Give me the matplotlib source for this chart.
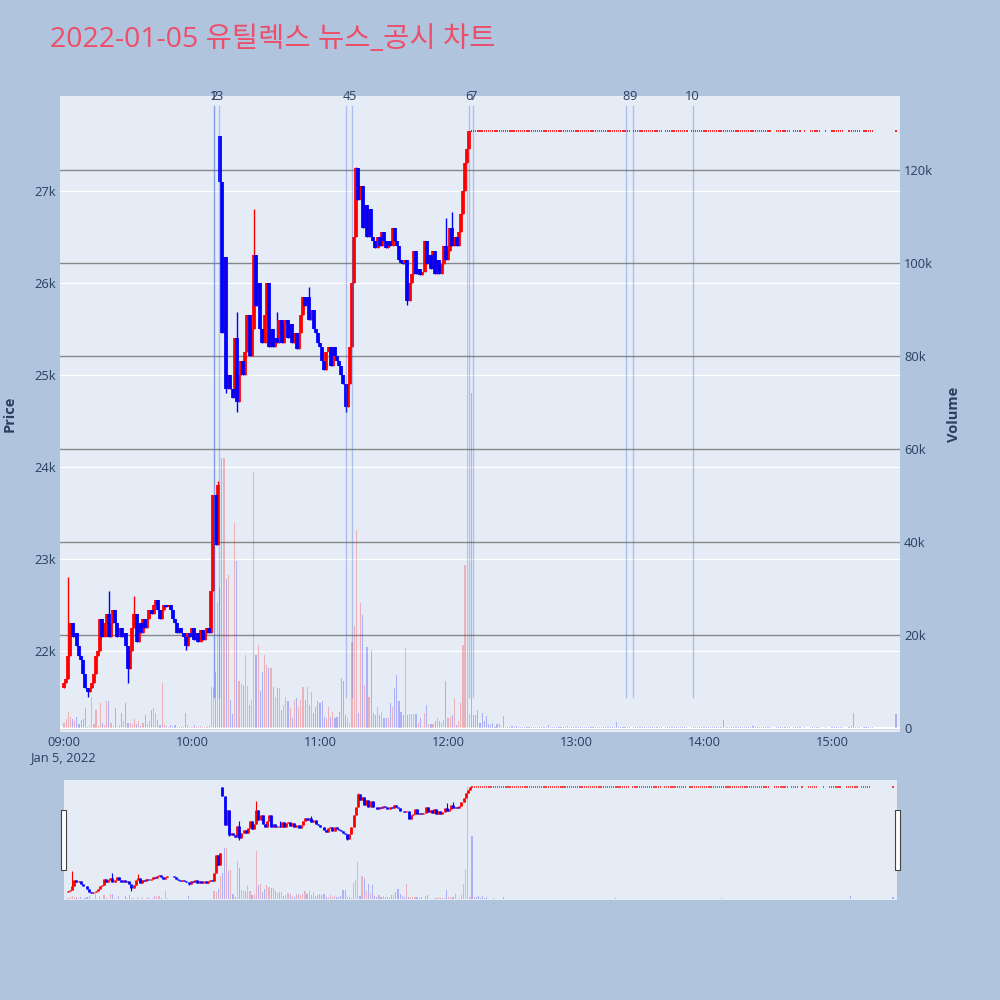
import numpy as np
import matplotlib
matplotlib.use("Agg")
import matplotlib.pyplot as plt
from matplotlib.transforms import blended_transform_factory
from matplotlib.patches import Rectangle

plt.rcParams['font.family'] = ['Open Sans', 'Noto Sans CJK KR', 'DejaVu Sans']

title = "2022-01-05 유틸렉스 뉴스_공시 차트"

# 1-minute closes, minute 0 = 09:00 ... minute 191 = 12:11
close = [
    21650, 21700, 21950, 22300, 22150, 22200, 22050, 21950, 21900, 21750,
    21600, 21550, 21600, 21650, 21750, 21950, 22000, 22350, 22150, 22300,
    22400, 22150, 22300, 22450, 22300, 22150, 22250, 22150, 22200, 22050,
    21800, 22000, 22250, 22400, 22100, 22300, 22200, 22350, 22250, 22350,
    22450, 22400, 22500, 22550, 22450, 22350, 22450, 22500, 22480, 22500,
    22450, 22350, 22300, 22200, 22250, 22200, 22150, 22050, 22200, 22150,
    22250, 22120, 22200, 22100, 22230, 22120, 22200, 22250, 22200, 22650,
    23700, 23150, 23800, 27100, 25450, 26280, 24850, 25000, 24850, 24750,
    25400, 24700, 25000, 25150, 25000, 25250, 25650, 25200, 25500, 26300,
    25750, 26000, 25500, 25350, 25650, 26000, 25300, 25500, 25300, 25400,
    25350, 25600, 25350, 25550, 25600, 25400, 25550, 25350, 25450, 25280,
    25450, 25650, 25850, 25750, 25850, 25600, 25700, 25500, 25450, 25350,
    25300, 25150, 25050, 25250, 25300, 25100, 25300, 25200, 25150, 25100,
    25000, 24900, 24650, 24900, 25300, 26000, 26500, 27250, 26900, 27050,
    26600, 26850, 26500, 26800, 26500, 26450, 26380, 26500, 26400, 26550,
    26450, 26380, 26450, 26400, 26600, 26450, 26400, 26250, 26220, 26200,
    26250, 25800, 26000, 26100, 26350, 26100, 26150, 26080, 26120, 26450,
    26200, 26300, 26150, 26350, 26100, 26250, 26100, 26200, 26400, 26250,
    26350, 26600, 26400, 26500, 26400, 26550, 26750, 27000, 27300, 27450,
    27650, 27650,
]
# opens that differ from the previous close
gap_open = {0: 21600, 73: 27600}
# wick extremes beyond the body
wick_high = {2: 22800, 21: 22650, 33: 22600, 72: 23850, 81: 25680, 89: 26800,
             100: 25680, 115: 25950, 137: 27260, 179: 26700, 182: 26770}
wick_low = {11: 21500, 30: 21650, 57: 22010, 76: 24800, 81: 24600,
            132: 24600, 161: 25760}

# volume (thousand shares), minute 0..191
volume = [
    1.0, 2.0, 3.5, 2.4, 2.0, 1.5, 2.4, 0.8, 1.7, 2.0,
    4.2, 0.3, 0.5, 6.7, 0.8, 3.9, 0.5, 5.3, 1.0, 0.6,
    5.7, 5.7, 1.0, 0.5, 4.2, 0.3, 0.6, 3.2, 1.4, 5.3,
    1.0, 1.0, 0.8, 2.0, 0.8, 1.4, 0.4, 1.0, 2.8, 0.8,
    1.4, 3.9, 4.2, 3.2, 1.7, 0.6, 9.7, 0.9, 0.5, 0.3,
    0.6, 0.3, 0.6, 0.2, 0.3, 0.2, 0.3, 3.2, 0.6, 0.3,
    0.2, 0.6, 0.3, 0.2, 0.4, 0.3, 0.2, 0.3, 0.5, 8.9,
    8.6, 12.0, 27.0, 30.0, 58.0, 58.0, 32.0, 33.0, 6.0, 3.0,
    44.0, 36.0, 10.0, 9.5, 9.0, 15.7, 9.0, 5.0, 6.0, 55.0,
    15.7, 17.8, 8.0, 12.0, 15.7, 13.5, 13.0, 12.8, 8.9, 6.7,
    8.5, 8.5, 3.9, 4.9, 6.6, 5.7, 4.2, 2.1, 6.0, 6.4,
    4.6, 6.0, 8.9, 6.0, 8.9, 4.9, 7.8, 3.2, 4.6, 5.7,
    5.3, 5.7, 2.4, 2.1, 4.6, 2.4, 3.5, 2.1, 2.4, 3.5,
    10.7, 10.0, 2.8, 2.1, 1.0, 18.6, 22.0, 42.6, 3.2, 26.8,
    24.3, 9.2, 17.5, 6.7, 16.8, 3.2, 2.8, 4.6, 2.8, 3.5,
    2.1, 2.1, 2.1, 5.3, 4.6, 8.5, 11.4, 5.7, 3.5, 2.8,
    17.3, 2.8, 3.0, 3.0, 3.0, 3.0, 1.0, 2.1, 0.3, 3.2,
    4.9, 0.8, 0.8, 0.8, 1.4, 2.1, 1.4, 1.0, 1.7, 10.0,
    2.1, 2.4, 2.8, 6.4, 0.6, 1.4, 5.3, 17.8, 35.0, 128.0,
    3.0, 72.0,
]

# after the upper-limit lock: traded minutes (runs) at the limit price
limit_price = 27650
limit_runs = [(192, 265), (267, 280), (282, 292), (294, 299), (300, 306),
              (307, 331), (334, 339), (340, 340), (342, 345), (347, 347),
              (350, 354), (357, 357), (360, 365), (368, 373), (375, 379),
              (390, 390)]
limit_vol = {192: 2.8, 193: 2.8, 194: 3.9, 195: 1.0, 196: 3.2, 197: 1.4,
             198: 2.5, 199: 0.8, 200: 0.6, 201: 1.0, 203: 0.8, 204: 0.8,
             206: 2.5, 210: 0.5, 212: 0.5, 227: 0.6, 236: 0.5, 259: 1.2,
             309: 1.8, 323: 0.5, 369: 0.5, 370: 3.2, 390: 3.0}
limit_vol_small = 0.15

news_labels = ['1', '2', '3', '4', '5', '6', '7', '8', '9', '10']
news_times = ['10:10:18', '10:10:20', '10:12:42', '11:12:12', '11:15:00',
              '12:10:00', '12:11:54', '13:23:24', '13:26:54', '13:54:42']

price_ticks = [22000, 23000, 24000, 25000, 26000, 27000]
vol_ticks = [0, 20, 40, 60, 80, 100, 120]
time_ticks = ['09:00', '10:00', '11:00', '12:00', '13:00', '14:00', '15:00']

RED = '#FF0000'
BLUE = '#0000FF'
FONT_C = '#2a3f5f'


def to_min(t):
    p = [int(v) for v in t.split(':')]
    while len(p) < 3:
        p.append(0)
    return (p[0] - 9) * 60 + p[1] + p[2] / 60.0


# build OHLC
n = len(close)
mins = np.arange(n)
opens = np.array([gap_open.get(i, close[i - 1] if i > 0 else close[i]) for i in range(n)], float)
closes = np.array(close, float)
highs = np.array([max(opens[i], closes[i], wick_high.get(i, 0)) for i in range(n)])
lows = np.array([min(opens[i], closes[i], wick_low.get(i, 1e9)) for i in range(n)])
up = closes > opens
vols = np.array(volume) * 1000

lim_m = np.concatenate([np.arange(a, b + 1) for a, b in limit_runs])
lim_v = np.array([limit_vol.get(m, limit_vol_small) for m in lim_m]) * 1000

all_m = np.concatenate([mins, lim_m])
all_v = np.concatenate([vols, lim_v])
all_c = np.concatenate([np.where(up, RED, BLUE), np.full(len(lim_m), BLUE)])

XLIM = (-1.9, 391.9)
PLIM = (21120, 28030)
VLIM = (-860, 135900)


def draw(ax_v, ax_p, body_lw, wick_lw, bar_w, dot_lw):
    ax_v.bar(all_m, all_v, width=bar_w, color=all_c, alpha=0.25, linewidth=0, zorder=2)
    body_lo = np.minimum(opens, closes)
    body_hi = np.maximum(opens, closes)
    for mask, col in ((up, RED), (~up & (opens != closes), BLUE)):
        ax_p.vlines(mins[mask], lows[mask], highs[mask], color=col, lw=wick_lw, zorder=3)
        ax_p.vlines(mins[mask], body_lo[mask], body_hi[mask], color=col, lw=body_lw, zorder=4)
    flat = opens == closes
    ax_p.hlines(closes[flat], mins[flat] - 0.3, mins[flat] + 0.3, color=RED, lw=dot_lw, zorder=4)
    ax_p.hlines(np.full(len(lim_m), limit_price), lim_m - 0.3, lim_m + 0.3,
                color=RED, lw=dot_lw, alpha=0.85, zorder=4)
    for a in (ax_v, ax_p):
        a.set_xlim(*XLIM)
    ax_p.set_ylim(*PLIM)
    ax_v.set_ylim(*VLIM)


fig = plt.figure(figsize=(10, 10), dpi=100, facecolor='#B0C4DE')

# main chart
ax_v = fig.add_axes([0.06, 0.268, 0.84, 0.636])
ax_v.set_facecolor('#E5ECF6')
ax_p = ax_v.twinx()
draw(ax_v, ax_p, body_lw=2.7, wick_lw=1.0, bar_w=0.55, dot_lw=1.4)

# price gridlines (white) and volume gridlines (grey) below the traces
tr = blended_transform_factory(ax_v.transAxes, ax_p.transData)
for p in price_ticks:
    ax_v.plot([0, 1], [p, p], color='white', lw=1.0, transform=tr, zorder=0.5)
ax_v.set_yticks([v * 1000 for v in vol_ticks])
ax_v.set_yticklabels(['0' if v == 0 else f'{v}k' for v in vol_ticks])
ax_v.grid(axis='y', color='#888888', lw=1.0, zorder=1)
ax_v.axhline(0, color='white', lw=1.5, zorder=1.5)
ax_v.set_axisbelow(True)
ax_v.yaxis.tick_right()

ax_p.set_yticks(price_ticks)
ax_p.set_yticklabels([f'{p // 1000}k' for p in price_ticks])
ax_p.yaxis.tick_left()

xt = [to_min(t) for t in time_ticks]
ax_v.set_xticks(xt)
ax_v.set_xticklabels([time_ticks[0] + '\nJan 5, 2022'] + time_ticks[1:])
for a in (ax_v, ax_p):
    for s in a.spines.values():
        s.set_visible(False)
    a.tick_params(length=0, labelsize=9.3, labelcolor=FONT_C, pad=3)

# news lines
trx = blended_transform_factory(ax_p.transData, ax_p.transAxes)
for lab, t in zip(news_labels, news_times):
    m = to_min(t)
    ax_p.axvline(m, ymin=0.055, ymax=0.984, color='#4169E1', alpha=0.35, lw=1.0, zorder=6)
    ax_p.text(m, 1.0, lab, transform=trx, ha='center', va='center',
              fontsize=9.3, color=FONT_C, zorder=7)

# range slider
sv = fig.add_axes([0.064, 0.1, 0.833, 0.12])
sv.set_facecolor('#E5ECF6')
sp = sv.twinx()
draw(sv, sp, body_lw=2.0, wick_lw=0.8, bar_w=0.55, dot_lw=1.2)
for a in (sv, sp):
    a.set_xticks([])
    a.set_yticks([])
    for s in a.spines.values():
        s.set_visible(False)
for hx in (0.0605, 0.8945):
    fig.patches.append(Rectangle((hx, 0.13), 0.005, 0.06, transform=fig.transFigure,
                                 facecolor='white', edgecolor='#444444', lw=0.8, zorder=10))

fig.text(0.05, 0.96, title, fontsize=20.5, color='#EB4F6B', ha='left', va='center')
fig.text(0.010, 0.586, 'Price', rotation=90, ha='center', va='center',
         fontsize=10.5, fontweight='bold', color=FONT_C)
fig.text(0.954, 0.586, 'Volume', rotation=90, ha='center', va='center',
         fontsize=10.5, fontweight='bold', color=FONT_C)

fig.savefig('out.png', dpi=100, facecolor=fig.get_facecolor())
